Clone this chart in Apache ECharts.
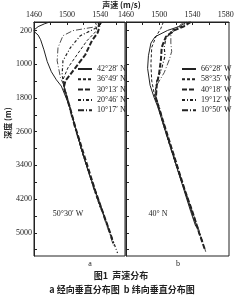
<!DOCTYPE html>
<html><head><meta charset="utf-8">
<script src="https://cdn.jsdelivr.net/npm/echarts@6/dist/echarts.min.js"></script>
<style>html,body{margin:0;padding:0;background:#fff}#c{width:243px;height:300px}</style>
</head><body><div id="c"></div>
<script>
// ---- data (sound speed m/s, depth m) ----
const leftSpeedLabels = [1460, 1500, 1540];
const rightSpeedLabels = [1460, 1500, 1540, 1580];
const depthLabels = [200, 1000, 1800, 2600, 3400, 4200, 5000];
const depthTicks = [200, 600, 1000, 1400, 1800, 2200, 2600, 3000, 3400, 3800, 4200, 4600, 5000, 5400];

const leftNames = ['42°28′ N', '36°49′ N', '30°13′ N', '20°46′ N', '10°17′ N'];
const n42 = [[1479,0],[1473,40],[1465,110],[1460,190],[1461,240],[1465,310],[1468,420],[1472,660],[1476,940],[1481,1180],[1487,1370],[1493,1520],[1503,2000],[1510,2500],[1517,3000],[1525,3500],[1534,4000],[1543,4500],[1551,4950]];
const n36 = [[1534,0],[1536,100],[1535,220],[1524,444],[1512,777],[1501,1086],[1495,1370],[1496,1500],[1503,2000],[1510,2500],[1517,3000],[1525,3500],[1533,4000],[1540,4400]];
const n30 = [[1538,0],[1539,120],[1537,254],[1530,444],[1522,777],[1510,1086],[1498,1394],[1496,1550],[1503,2000],[1510,2500],[1518,3000],[1526,3500],[1534,4000],[1543,4500],[1552,5000],[1556,5250]];
const n20 = [[1541,0],[1540,80],[1531,183],[1516,325],[1504,610],[1495,919],[1494,1252],[1496,1500],[1503,2000],[1510,2500],[1517,3000],[1525,3500],[1534,4000],[1543,4500],[1552,5000],[1561,5480]];
const n10 = [[1542,0],[1540,60],[1534,115],[1507,205],[1495,325],[1489,610],[1488,920],[1492,1320],[1496,1500],[1502,2000],[1509,2500],[1517,3000],[1525,3500],[1533,4000],[1542,4500],[1551,5000],[1556,5300]];

const rightNames = ['66°28′ W', '58°35′ W', '40°18′ W', '19°12′ W', '10°50′ W'];
const w66 = [[1533,0],[1525,100],[1510,200],[1495,350],[1490,500],[1487,800],[1486,1100],[1489,1500],[1494,1800],[1498,2000],[1506,2500],[1514,3000],[1522,3500],[1530,4000],[1538,4500],[1544,4850]];
const w58 = [[1505,0],[1502,150],[1496,350],[1491,600],[1490,1000],[1491,1400],[1495,1800],[1499,2000],[1506,2500],[1514,3000],[1522,3500],[1531,4000],[1539,4500],[1548,5000],[1551,5150]];
const w40 = [[1538,0],[1530,100],[1518,200],[1508,350],[1503,600],[1502,900],[1500,1200],[1497,1500],[1496,1800],[1499,2000],[1507,2500],[1515,3000],[1523,3500],[1531,4000],[1540,4500],[1548,5000],[1555,5400]];
const w19 = [[1536,0],[1528,100],[1515,200],[1508,400],[1506,600],[1507,800],[1503,1100],[1497,1400],[1495,1700],[1499,2000],[1506,2500],[1514,3000],[1522,3500],[1531,4000],[1539,4500],[1548,5000],[1552,5200]];
const w10 = [[1530,0],[1520,150],[1514,300],[1514,500],[1515,700],[1512,900],[1506,1200],[1497,1500],[1496,1800],[1500,2000],[1507,2500],[1515,3000],[1523,3500],[1531,4000],[1540,4500],[1549,5000],[1556,5450]];

// ---- styles ----
const INK = '#222';
const styles = [
  {type: 'solid', width: 1},
  {type: [3, 2], width: 1},
  {type: [5, 2], width: 2},
  {type: [3, 2, 1, 2], width: 1.2},
  {type: [6, 2, 1, 2], width: 0.8}
];
const serif = '"Liberation Serif", "DejaVu Serif", serif';
const cjk = '"Noto Sans CJK SC", sans-serif';

function mk(name, data, idx, s) {
  return {name: name, type: 'line', xAxisIndex: idx, yAxisIndex: idx, data: data,
    symbol: 'none', silent: true, animation: false, color: INK,
    itemStyle: {color: INK},
    lineStyle: {color: INK, width: styles[s].width, type: styles[s].type}};
}
const leftData = [n42, n36, n30, n20, n10];
const rightData = [w66, w58, w40, w19, w10];
const series = [];
leftData.forEach((d, i) => series.push(mk(leftNames[i], d, 0, i)));
rightData.forEach((d, i) => series.push(mk(rightNames[i], d, 1, i)));

const plain = v => String(v);
function xAx(idx, max, labels) {
  const ticks = [];
  for (let v = 1460; v <= max; v += 20) ticks.push(v);
  return {type: 'value', gridIndex: idx, position: 'top', min: 1460, max: max,
    axisLine: {show: true, lineStyle: {color: INK}},
    axisTick: {show: true, inside: true, length: 3, customValues: ticks, lineStyle: {color: INK}},
    axisLabel: {customValues: labels, formatter: plain, fontSize: 8, margin: 3, color: INK, fontFamily: serif},
    splitLine: {show: false}};
}
function yAx(idx, showLabel) {
  return {type: 'value', gridIndex: idx, inverse: true, min: 0, max: 5550,
    axisLine: {show: true, lineStyle: {color: INK}},
    axisTick: {show: true, inside: true, length: 3, customValues: depthTicks, lineStyle: {color: INK}},
    axisLabel: {show: showLabel, customValues: depthLabels, formatter: plain, fontSize: 8, margin: 2, color: INK, fontFamily: serif},
    splitLine: {show: false}};
}
function lg(names, left) {
  return {data: names, orient: 'vertical', left: left, top: 60, itemWidth: 14, itemHeight: 8, itemGap: 2.3,
    itemStyle: {opacity: 0}, textStyle: {fontSize: 8, color: INK, fontFamily: serif}, selectedMode: false};
}

const chart = echarts.init(document.getElementById('c'), null, {renderer: 'canvas'});
chart.setOption({
  animation: false,
  backgroundColor: '#fff',
  grid: [
    {left: 34, top: 22, width: 91, height: 234, show: true, borderColor: INK, borderWidth: 1},
    {left: 126, top: 22, width: 103, height: 234, show: true, borderColor: INK, borderWidth: 1}
  ],
  xAxis: [xAx(0, 1570, leftSpeedLabels), xAx(1, 1584, rightSpeedLabels)],
  yAxis: [yAx(0, true), yAx(1, false)],
  legend: [lg(leftNames, 72), lg(rightNames, 176)],
  graphic: [
    {type: 'text', left: 'center', top: 1, style: {text: '声速 (m/s)', font: 'bold 8px ' + cjk, fill: INK}},
    {type: 'text', x: 8, y: 123, rotation: Math.PI / 2, style: {text: '深度 (m)', font: 'bold 8px ' + cjk, fill: INK, align: 'center', verticalAlign: 'middle'}},
    {type: 'text', x: 68, y: 214, style: {text: '50°30′ W', font: '8px ' + serif, fill: INK, align: 'center', verticalAlign: 'middle'}},
    {type: 'text', x: 158, y: 214, style: {text: '40° N', font: '8px ' + serif, fill: INK, align: 'center', verticalAlign: 'middle'}},
    {type: 'text', x: 90, y: 264, style: {text: 'a', font: '8px ' + serif, fill: INK, align: 'center', verticalAlign: 'middle'}},
    {type: 'text', x: 178, y: 264, style: {text: 'b', font: '8px ' + serif, fill: INK, align: 'center', verticalAlign: 'middle'}},
    {type: 'text', x: 121, y: 276, style: {text: '图1  声速分布', font: 'bold 9px ' + cjk, fill: INK, align: 'center', verticalAlign: 'middle'}},
    {type: 'text', x: 122, y: 290, style: {text: 'a 经向垂直分布图  b 纬向垂直分布图', font: 'bold 9px ' + cjk, fill: INK, align: 'center', verticalAlign: 'middle'}}
  ],
  series: series
});
</script></body></html>
